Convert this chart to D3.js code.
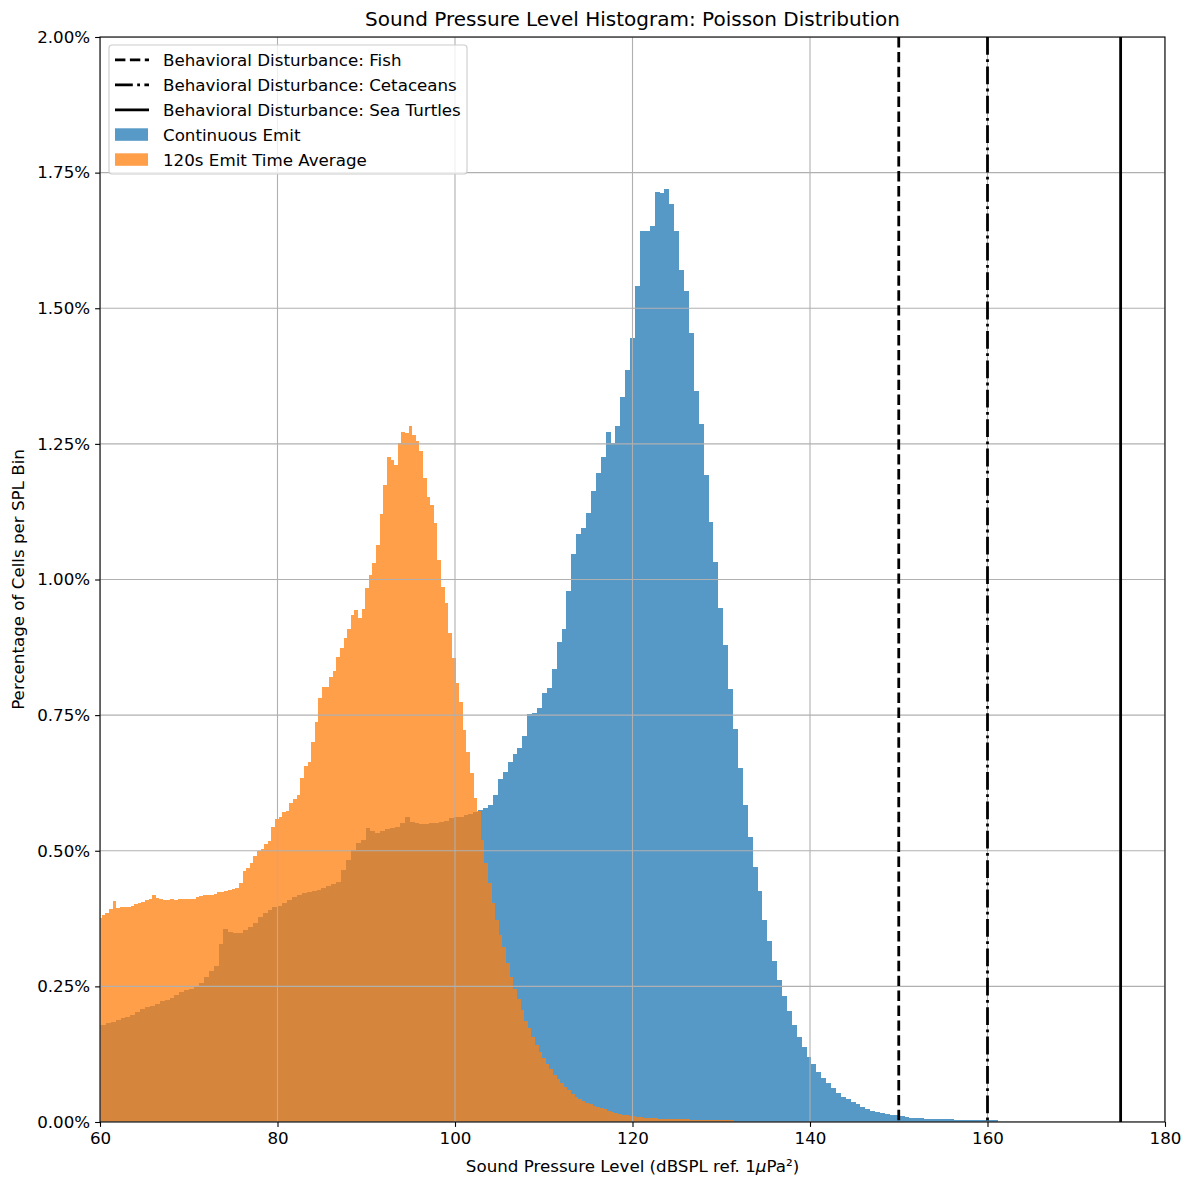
<!DOCTYPE html>
<html>
<head>
<meta charset="utf-8">
<script src="https://cdn.jsdelivr.net/npm/d3@7"></script>
<style>
  body { margin: 0; background: #fff; }
  text { font-family: "DejaVu Sans", sans-serif; fill: #000; }
</style>
</head>
<body>
<svg id="chart" width="1186" height="1178"></svg>
<script>
// ---- data -------------------------------------------------------------
// Histogram of cell SPL values (percentage of cells in each bin), uniform bins.
const blueBinStart = 59.5606;   // dB, left edge of first "Continuous Emit" bin
const blueBinWidth = 0.5521;    // dB
const blueValues = [
  0.1788, 0.1788, 0.1830, 0.1835, 0.1880, 0.1912, 0.1941, 0.1972, 0.2022, 0.2077,
  0.2125, 0.2147, 0.2175, 0.2236, 0.2249, 0.2291, 0.2341, 0.2391, 0.2424, 0.2452,
  0.2494, 0.2568, 0.2678, 0.2783, 0.2881, 0.3281, 0.3552, 0.3508, 0.3489, 0.3485,
  0.3539, 0.3600, 0.3674, 0.3784, 0.3847, 0.3908, 0.3958, 0.3982, 0.4042, 0.4092,
  0.4153, 0.4184, 0.4216, 0.4245, 0.4258, 0.4276, 0.4313, 0.4350, 0.4387, 0.4429,
  0.4645, 0.4829, 0.5014, 0.5143, 0.5198, 0.5425, 0.5364, 0.5333, 0.5370, 0.5401,
  0.5425, 0.5443, 0.5517, 0.5628, 0.5535, 0.5517, 0.5493, 0.5493, 0.5517, 0.5517,
  0.5535, 0.5554, 0.5604, 0.5617, 0.5617, 0.5659, 0.5677, 0.5720, 0.5751, 0.5782,
  0.5843, 0.6028, 0.6323, 0.6457, 0.6630, 0.6778, 0.6900, 0.7121, 0.7521, 0.7545,
  0.7637, 0.7902, 0.7994, 0.8350, 0.8842, 0.9082, 0.9788, 1.0464, 1.0833, 1.0944,
  1.1235, 1.1631, 1.1969, 1.2249, 1.2719, 1.2511, 1.2829, 1.3370, 1.3856, 1.4457,
  1.5410, 1.6424, 1.6424, 1.6516, 1.7143, 1.7119, 1.7204, 1.6922, 1.6429, 1.5705,
  1.5318, 1.4538, 1.3480, 1.2861, 1.1926, 1.1060, 1.0323, 0.9480, 0.8787, 0.7987,
  0.7239, 0.6520, 0.5838, 0.5259, 0.4706, 0.4258, 0.3724, 0.3331, 0.2968, 0.2618,
  0.2328, 0.2046, 0.1788, 0.1572, 0.1377, 0.1193, 0.1069, 0.0927, 0.0817, 0.0713,
  0.0621, 0.0540, 0.0466, 0.0418, 0.0369, 0.0326, 0.0282, 0.0234, 0.0203, 0.0184,
  0.0166, 0.0155, 0.0136, 0.0124, 0.0105, 0.0092, 0.0081, 0.0077, 0.0068, 0.0063,
  0.0058, 0.0055, 0.0052, 0.0050, 0.0048, 0.0046, 0.0044, 0.0042, 0.0040, 0.0036,
  0.0034, 0.0033, 0.0032, 0.0031
];

const orangeBinStart = 59.786;  // dB, left edge of first "120s Emit Time Average" bin
const orangeBinWidth = 0.4068;  // dB
const orangeValues = [
  0.3755, 0.3816, 0.3858, 0.3930, 0.4079, 0.3939, 0.3958, 0.3958, 0.3958, 0.3982,
  0.4013, 0.4031, 0.4055, 0.4092, 0.4111, 0.4184, 0.4123, 0.4111, 0.4101, 0.4092,
  0.4105, 0.4087, 0.4105, 0.4105, 0.4105, 0.4116, 0.4116, 0.4142, 0.4166, 0.4184,
  0.4184, 0.4184, 0.4208, 0.4234, 0.4234, 0.4258, 0.4276, 0.4295, 0.4313, 0.4411,
  0.4632, 0.4682, 0.4774, 0.4903, 0.4995, 0.5036, 0.5124, 0.5174, 0.5432, 0.5594,
  0.5613, 0.5720, 0.5733, 0.5880, 0.5948, 0.6028, 0.6335, 0.6562, 0.6630, 0.7010,
  0.7368, 0.7810, 0.8024, 0.8024, 0.8208, 0.8313, 0.8566, 0.8743, 0.8922, 0.9082,
  0.9346, 0.9432, 0.9285, 0.9451, 0.9838, 1.0083, 1.0299, 1.0636, 1.1207, 1.1742,
  1.2253, 1.2203, 1.2105, 1.2511, 1.2713, 1.2706, 1.2829, 1.2664, 1.2547, 1.2369,
  1.1876, 1.1526, 1.1368, 1.1036, 1.0359, 0.9856, 0.9572, 0.9008, 0.8547, 0.8098,
  0.7747, 0.7226, 0.6826, 0.6439, 0.5967, 0.5738, 0.5198, 0.4769, 0.4411, 0.4042,
  0.3724, 0.3447, 0.3220, 0.2936, 0.2667, 0.2446, 0.2262, 0.2065, 0.1867, 0.1727,
  0.1572, 0.1419, 0.1290, 0.1174, 0.1069, 0.0982, 0.0866, 0.0787, 0.0710, 0.0645,
  0.0584, 0.0524, 0.0470, 0.0428, 0.0382, 0.0345, 0.0323, 0.0295, 0.0271, 0.0249,
  0.0234, 0.0203, 0.0179, 0.0160, 0.0153, 0.0135, 0.0129, 0.0116, 0.0111, 0.0090,
  0.0083, 0.0081, 0.0080, 0.0078, 0.0066, 0.0063, 0.0061, 0.0060, 0.0058, 0.0052,
  0.0050, 0.0049, 0.0048, 0.0047, 0.0046, 0.0045, 0.0042, 0.0041, 0.0040, 0.0039,
  0.0038, 0.0037, 0.0036, 0.0035, 0.0034, 0.0033
];

const seriesLabels = ["Continuous Emit", "120s Emit Time Average"];
const thresholdLabels = [
  "Behavioral Disturbance: Fish",
  "Behavioral Disturbance: Cetaceans",
  "Behavioral Disturbance: Sea Turtles"
];
const thresholdValues = [150, 160, 175];
const xTicks = [60, 80, 100, 120, 140, 160, 180];
const yTicks = [0, 0.25, 0.5, 0.75, 1.0, 1.25, 1.5, 1.75, 2.0];

// ---- layout / styles ---------------------------------------------------
const W = 1186, H = 1178;
const m = { left: 100, right: 1165, top: 37, bottom: 1122 };
const seriesColors = ["#1f77b4", "#ff7f0e"];
const barAlpha = 0.75;
const thresholdDash = ["10.4,4.5", "17.8,4.4,2.8,4.4", null];
const lineW = 2.8;
const fs = 16.7;

const svg = d3.select("#chart");
svg.append("rect").attr("width", W).attr("height", H).attr("fill", "#fff");

const x = d3.scaleLinear().domain([60, 180]).range([m.left, m.right]);
const y = d3.scaleLinear().domain([0, 2]).range([m.bottom, m.top]);

svg.append("defs").append("clipPath").attr("id", "plotArea")
  .append("rect")
  .attr("x", m.left).attr("y", m.top)
  .attr("width", m.right - m.left).attr("height", m.bottom - m.top);

const plot = svg.append("g").attr("clip-path", "url(#plotArea)");

function toBins(start, width, values) {
  return values.map((v, i) => ({ x0: start + i * width, x1: start + (i + 1) * width, v }));
}

const series = [
  toBins(blueBinStart, blueBinWidth, blueValues),
  toBins(orangeBinStart, orangeBinWidth, orangeValues)
];

// histogram bars: each series composited as one translucent layer
series.forEach((bins, s) => {
  plot.append("g")
    .attr("opacity", barAlpha)
    .selectAll("rect")
    .data(bins)
    .join("rect")
    .attr("shape-rendering", "crispEdges")
    .attr("x", d => x(d.x0))
    .attr("width", d => x(d.x1) - x(d.x0))
    .attr("y", d => y(d.v))
    .attr("height", d => y(0) - y(d.v))
    .attr("fill", seriesColors[s]);
});

// grid above bars
const grid = plot.append("g").attr("stroke", "#b0b0b0").attr("stroke-width", 1.1);
grid.selectAll("line.gx").data(xTicks).join("line").attr("class", "gx")
  .attr("x1", d => x(d)).attr("x2", d => x(d))
  .attr("y1", m.top).attr("y2", m.bottom);
grid.selectAll("line.gy").data(yTicks).join("line").attr("class", "gy")
  .attr("x1", m.left).attr("x2", m.right)
  .attr("y1", d => y(d)).attr("y2", d => y(d));

// threshold lines
plot.append("g").selectAll("line")
  .data(thresholdValues)
  .join("line")
  .attr("x1", d => x(d)).attr("x2", d => x(d))
  .attr("y1", m.top).attr("y2", m.bottom)
  .attr("stroke", "#000")
  .attr("stroke-width", lineW)
  .attr("stroke-dasharray", (d, i) => thresholdDash[i]);

// axes
const xAxis = svg.append("g")
  .attr("transform", `translate(0,${m.bottom})`)
  .call(d3.axisBottom(x).tickValues(xTicks).tickSize(4.9).tickPadding(4.9).tickFormat(d3.format("d")));
const yAxis = svg.append("g")
  .attr("transform", `translate(${m.left},0)`)
  .call(d3.axisLeft(y).tickValues(yTicks).tickSize(4.9).tickPadding(4.9).tickFormat(d => d.toFixed(2) + "%"));
[xAxis, yAxis].forEach(a => {
  a.select(".domain").remove();
  a.attr("font-family", null).attr("font-size", null);
  a.selectAll(".tick line").attr("stroke", "#000").attr("stroke-width", 1.1);
  a.selectAll(".tick text").style("font-size", fs + "px").attr("fill", "#000");
});

// spines
svg.append("rect")
  .attr("x", m.left).attr("y", m.top)
  .attr("width", m.right - m.left).attr("height", m.bottom - m.top)
  .attr("fill", "none").attr("stroke", "#000").attr("stroke-width", 1.1);

// title and axis labels
svg.append("text")
  .attr("x", (m.left + m.right) / 2).attr("y", 26)
  .attr("text-anchor", "middle")
  .style("font-size", "20px")
  .text("Sound Pressure Level Histogram: Poisson Distribution");

const xl = svg.append("text")
  .attr("x", (m.left + m.right) / 2).attr("y", 1172)
  .attr("text-anchor", "middle")
  .style("font-size", fs + "px");
xl.append("tspan").text("Sound Pressure Level (dBSPL ref. 1");
xl.append("tspan").attr("font-style", "italic").text("μ");
xl.append("tspan").text("Pa²)");

svg.append("text")
  .attr("transform", `translate(24,${(m.top + m.bottom) / 2}) rotate(-90)`)
  .attr("text-anchor", "middle")
  .style("font-size", fs + "px")
  .text("Percentage of Cells per SPL Bin");

// legend
const legend = svg.append("g");
legend.append("rect")
  .attr("x", 109).attr("y", 45).attr("width", 358).attr("height", 129)
  .attr("rx", 3)
  .attr("fill", "#fff").attr("fill-opacity", 0.8)
  .attr("stroke", "#cccccc").attr("stroke-width", 1.1);

const legendItems = [
  ...thresholdLabels.map((t, i) => ({ label: t, kind: "line", i })),
  ...seriesLabels.map((t, i) => ({ label: t, kind: "patch", i }))
];
const rowY = i => 59.8 + i * 25;
const rows = legend.selectAll("g.row").data(legendItems).join("g").attr("class", "row")
  .attr("transform", (d, i) => `translate(0,${rowY(i)})`);
rows.filter(d => d.kind === "line").append("line")
  .attr("x1", 115).attr("x2", 149).attr("y1", 0).attr("y2", 0)
  .attr("stroke", "#000").attr("stroke-width", lineW)
  .attr("stroke-dasharray", d => thresholdDash[d.i]);
rows.filter(d => d.kind === "patch").append("rect")
  .attr("x", 115).attr("y", -6.5).attr("width", 33).attr("height", 12.5)
  .attr("fill", d => seriesColors[d.i]).attr("fill-opacity", barAlpha);
rows.append("text")
  .attr("x", 163).attr("y", 0).attr("dy", "0.35em")
  .style("font-size", fs + "px")
  .text(d => d.label);
</script>
</body>
</html>
